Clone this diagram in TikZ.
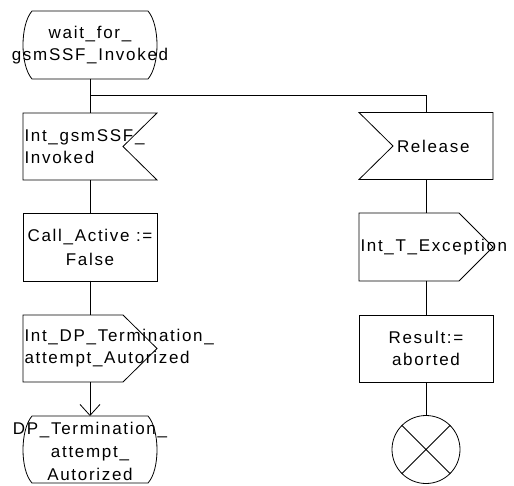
\documentclass[tikz,border=0pt]{standalone}
\usepackage{fontspec}
\setmainfont{Liberation Sans}[LetterSpace=10]
\usetikzlibrary{arrows.meta}
\begin{document}
\begin{tikzpicture}[x=1pt,y=-1pt,
  sym/.style={minimum width=134pt,minimum height=67pt,inner sep=0pt,font=\fontsize{17}{22}\selectfont},
  lft/.style={sym,text width=131pt,align=left,inner xsep=1.5pt},
  ctr/.style={sym,align=center},
  outl/.style={draw=black,line width=0.8pt,line join=miter},
  con/.style={draw=black,line width=0.8pt},
  stopsym/.style={draw=black,line width=0.8pt,circle,minimum size=68pt,inner sep=0pt}]
\path[use as bounding box,fill=white] (0,0) rectangle (514,485);
% left column
\node[ctr] (s1) at (90,45) {wait\_for\_\\gsmSSF\_Invoked};
\node[lft] (i1) at (90,146.5) {Int\_gsmSSF\_\\Invoked};
\node[ctr] (t1) at (90,247) {Call\_Active :=\\[2pt]False};
\node[lft] (o1) at (90,348.5) {Int\_DP\_Termination\_\\attempt\_Autorized};
\node[ctr,font=\fontsize{17}{23}\selectfont] (s2) at (90,451) {DP\_Termination\_\\attempt\_\\Autorized};
% right column
\node[lft] (rel) at (426,146) {\hspace*{36.5pt}Release};
\node[lft] (exc) at (426,247) {Int\_T\_Exception};
\node[ctr] (res) at (426,348.5) {Result:=\\aborted};
\node[stopsym] (stop) at (426,449.5) {};
% outlines
\draw[outl,shift={(s1.center)}] (-58,-34) -- (58,-34) .. controls (70,-20) and (70,20) .. (58,34) -- (-58,34) .. controls (-70,20) and (-70,-20) .. cycle;
\draw[outl,shift={(s2.center)}] (-58,-35) -- (58,-35) .. controls (70,-21) and (70,19) .. (58,32) -- (-58,32) .. controls (-70,19) and (-70,-21) .. cycle;
\draw[outl,shift={(i1.center)}] (-67,-33.5) -- (67,-33.5) -- (33,0) -- (67,33.5) -- (-67,33.5) -- cycle;
\draw[outl,shift={(rel.center)}] (-67,-33.5) -- (67,-33.5) -- (67,33.5) -- (-67,33.5) -- (-33,0) -- cycle;
\draw[outl,shift={(o1.center)}] (-67,-33.5) -- (33,-33.5) -- (67,0) -- (33,33.5) -- (-67,33.5) -- cycle;
\draw[outl,shift={(exc.center)}] (-67,-34) -- (33,-34) -- (67,0) -- (33,34) -- (-67,34) -- cycle;
\draw[outl,shift={(t1.center)}] (-67,-34) rectangle (67,34);
\draw[outl,shift={(res.center)}] (-67,-33.5) rectangle (67,33.5);
\draw[con] (stop.north west) -- (stop.south east) (stop.north east) -- (stop.south west);
% connectors
\coordinate (br) at (90,95);
\coordinate (s2top) at (90,416);
\draw[con] (s1.south) -- (i1.north);
\draw[con] (br) -| (rel.north);
\draw[con] (i1.south) -- (t1.north);
\draw[con] (t1.south) -- (o1.north);
\draw[con,-{Straight Barb[length=11pt,width=20pt]}] (o1.south) -- (s2top);
\draw[con] (rel.south) -- (exc.north);
\draw[con] (exc.south) -- (res.north);
\draw[con] (res.south) -- (stop.north);
\end{tikzpicture}
\end{document}
